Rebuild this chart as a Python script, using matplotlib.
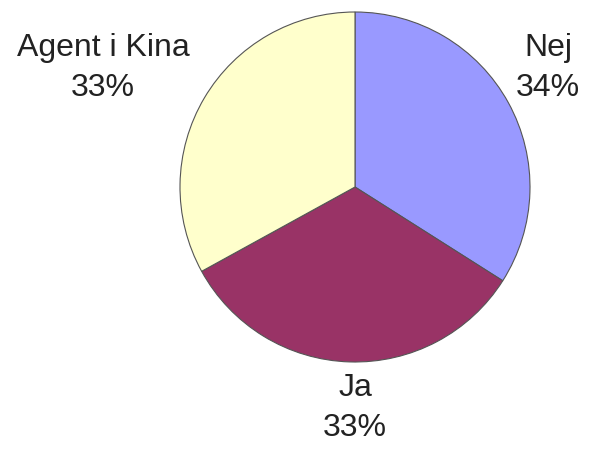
import matplotlib.pyplot as plt

labels = ["Nej", "Ja", "Agent i Kina"]
values = [34, 33, 33]
colors = ["#9999FF", "#993366", "#FFFFCC"]

# label anchor points in pixel coords (image y from top)
label_pos = [(548, 68), (355, 408), (103, 68)]

W, H = 589, 455
fig = plt.figure(figsize=(W / 100, H / 100), dpi=100)
ax = fig.add_axes([0, 0, 1, 1])

ax.pie(values, colors=colors, startangle=90, counterclock=False,
       center=(355, H - 187), radius=175,
       wedgeprops=dict(edgecolor="#555555", linewidth=0.8))

# pie resets limits, so set them afterwards
ax.set_xlim(0, W)
ax.set_ylim(0, H)
ax.set_aspect("equal")
ax.axis("off")

for lab, v, (x, y) in zip(labels, values, label_pos):
    ax.text(x, H - y, f"{lab}\n{v}%", ha="center", va="center",
            fontsize=23, family="Liberation Sans", color="#222222",
            linespacing=1.4)

fig.savefig("out.png", dpi=100)
